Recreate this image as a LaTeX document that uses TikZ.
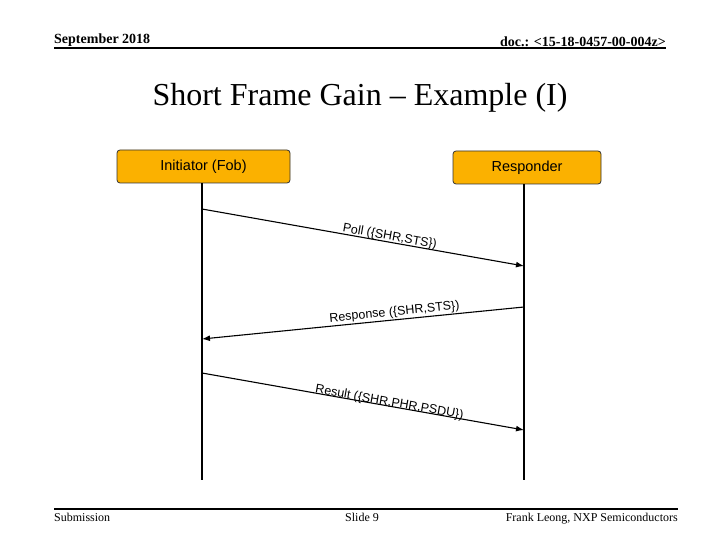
\documentclass[tikz,border=0pt]{standalone}
\usepackage{fontspec}
\usetikzlibrary{arrows.meta}
\setmainfont{Liberation Serif}
\newfontfamily\arial{Liberation Sans}
\begin{document}
\begin{tikzpicture}[x=1pt,y=-1pt,
 actor/.style={draw=black!80,fill={rgb,255:red,251;green,177;blue,0},rounded corners=3pt,line width=0.8pt,font=\arial\fontsize{14.5}{16}\selectfont},
 life/.style={line width=1.8pt},
 msg/.style={line width=1.1pt,-{Latex[length=8pt,width=6pt]}},
 lbl/.style={font=\arial\fontsize{12.5}{14}\selectfont,inner sep=1pt},
 hdr/.style={inner sep=0pt,font=\bfseries\fontsize{14}{16}\selectfont},
 ftr/.style={inner sep=0pt,font=\fontsize{12}{14}\selectfont}]
\useasboundingbox (0,0) rectangle (720,540);
\node[hdr,anchor=base west] (date) at (54,44) {September 2018};
\node[hdr,anchor=base east] (doc) at (666,47) {doc.: <15-18-0457-00-004z>};
\draw[line width=1.5pt] (54,48) -- (666,48);
\node[font=\fontsize{32}{36}\selectfont] (title) at (360,98) {Short Frame Gain – Example (I)};
\node[actor,minimum width=173pt,minimum height=33pt] (ini) at (203.5,166.5) {Initiator (Fob)};
\node[actor,minimum width=148pt,minimum height=33pt] (res) at (527,167.5) {Responder};
\coordinate (iend) at (202,480);
\coordinate (rend) at (524,480);
\draw[life] (ini.south -| 202,0) -- (iend);
\draw[life] (res.south -| 524,0) -- (rend);
\coordinate (a1) at (202,209); \coordinate (b1) at (524,266);
\coordinate (a2) at (524,307); \coordinate (b2) at (202,339);
\coordinate (a3) at (202,373); \coordinate (b3) at (524,430);
\draw[msg] (a1) -- node[lbl,pos=0.58,above,sloped,yshift=-2pt] {Poll (\{SHR,STS\})} (b1);
\draw[msg] (a2) -- node[lbl,pos=0.4,above,sloped] {Response (\{SHR,STS\})} (b2);
\draw[msg] (a3) -- node[lbl,pos=0.58,above,sloped,yshift=-4pt] {Result (\{SHR,PHR,PSDU\})} (b3);
\draw[line width=1.5pt] (54,509) -- (678,509);
\node[ftr,anchor=base west] (sub) at (54,521) {Submission};
\node[ftr,anchor=base] (slide) at (362,521) {Slide 9};
\node[ftr,anchor=base east] (auth) at (678,521) {Frank Leong, NXP Semiconductors};
\end{tikzpicture}
\end{document}
